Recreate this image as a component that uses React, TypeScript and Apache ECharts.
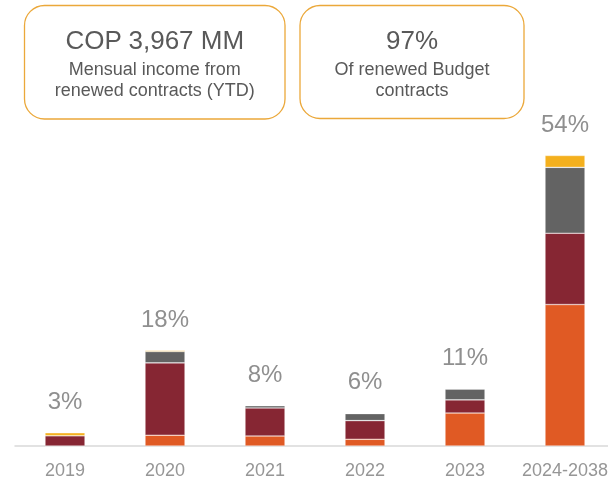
import React, { useEffect, useRef } from "react";
import * as echarts from "echarts";

const categories = ["2019", "2020", "2021", "2022", "2023", "2024-2038"];
const orangeValues = [0, 2.0, 1.85, 1.25, 6.1, 26.2];
const redValues = [1.9, 13.4, 5.2, 3.45, 2.45, 13.2];
const grayValues = [0, 2.1, 0.4, 1.3, 2.0, 12.2];
const yellowValues = [0.55, 0.2, 0.12, 0.12, 0, 2.2];
const pctLabels = ["3%", "18%", "8%", "6%", "11%", "54%"];

const boxTitles = ["COP 3,967 MM", "97%"];
const boxSub1 = ["Mensual income from", "Of renewed Budget"];
const boxSub2 = ["renewed contracts (YTD)", "contracts"];

const FONT = "'Liberation Sans', Arial, sans-serif";

export default function App() {
  const ref = useRef<HTMLDivElement>(null);
  useEffect(() => {
    if (!ref.current) return;
    const chart = echarts.init(ref.current, undefined, { renderer: "svg" });
    const boxes = [
      { x: 24.5, y: 5.5, w: 260.5, h: 113.5 },
      { x: 300, y: 5.5, w: 224, h: 113 },
    ];
    const graphic: any[] = [];
    const txt = (x: number, y: number, text: string, size: number) => ({
      type: "text",
      x,
      y,
      style: {
        text,
        font: `${size}px ${FONT}`,
        fill: "#595959",
        textAlign: "center",
        textVerticalAlign: "middle",
      },
    });
    boxes.forEach((b, i) => {
      const cx = b.x + b.w / 2;
      graphic.push({
        type: "rect",
        shape: { x: b.x, y: b.y, width: b.w, height: b.h, r: 20 },
        style: { fill: "#fff", stroke: "#EBA83A", lineWidth: 1.3 },
      });
      graphic.push(txt(cx, 40, boxTitles[i], 26));
      graphic.push(txt(cx, 68.5, boxSub1[i], 18));
      graphic.push(txt(cx, 90, boxSub2[i], 18));
    });

    const itemBorder = { borderColor: "rgba(255,255,255,0.55)", borderWidth: 0.6 };
    const mk = (name: string, data: number[], color: string, withLabel: boolean) => ({
      name,
      type: "bar",
      stack: "total",
      barWidth: 40,
      data,
      itemStyle: { color, ...itemBorder },
      label: withLabel
        ? {
            show: true,
            position: "top",
            distance: 20,
            formatter: (p: any) => pctLabels[p.dataIndex],
            fontSize: 24,
            fontFamily: FONT,
            color: "#8f8f8f",
          }
        : { show: false },
    });

    chart.setOption({
      animation: false,
      grid: {
        left: 15,
        width: 600,
        top: 122,
        bottom: 35,
        containLabel: false,
        outerBoundsMode: "none",
      },
      xAxis: {
        type: "category",
        data: categories,
        axisLine: { show: true, lineStyle: { color: "#d9d9d9", width: 1.5 } },
        axisTick: { show: false },
        axisLabel: { color: "#969696", fontSize: 18, fontFamily: FONT, margin: 15, interval: 0 },
      },
      yAxis: {
        type: "value",
        min: 0,
        max: 60,
        show: false,
        splitLine: { show: false },
      },
      series: [
        mk("A", orangeValues, "#E05A24", false),
        mk("B", redValues, "#862633", false),
        mk("C", grayValues, "#636363", false),
        mk("D", yellowValues, "#F4B01E", true),
      ],
      graphic,
    });
    return () => chart.dispose();
  }, []);
  return (
    <div
      ref={ref}
      style={{ position: "fixed", left: 0, top: 0, width: 608, height: 481 }}
    />
  );
}
